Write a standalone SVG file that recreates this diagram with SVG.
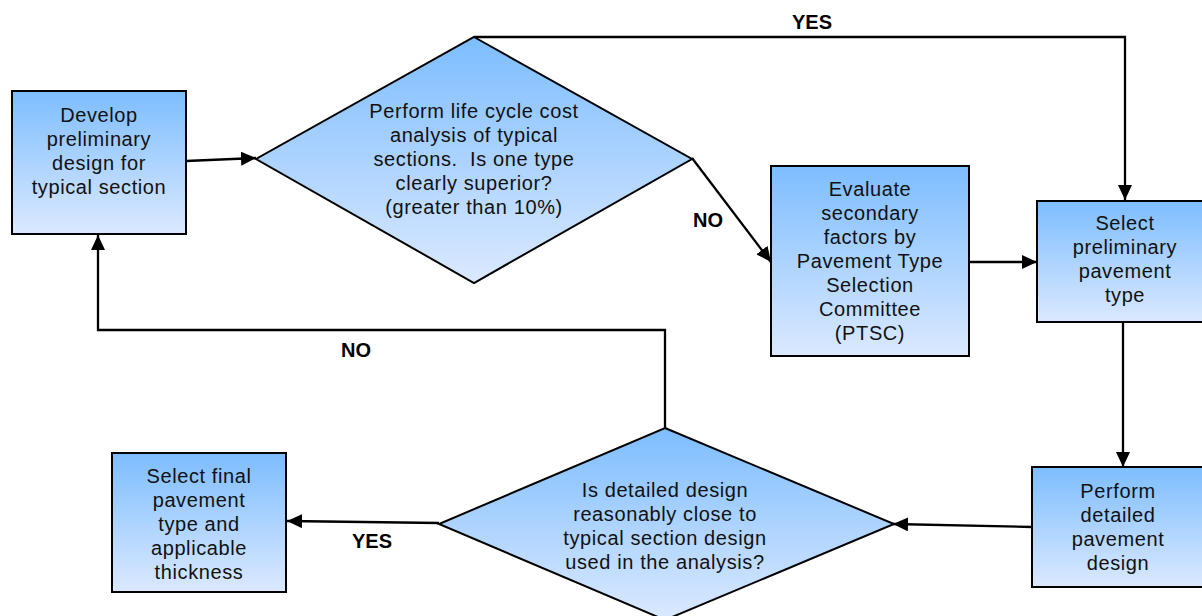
<svg xmlns="http://www.w3.org/2000/svg" width="1202" height="616" viewBox="0 0 1202 616">
<defs>
<linearGradient id="g" x1="0" y1="0" x2="0" y2="1">
<stop offset="0" stop-color="#7dbdff"/>
<stop offset="1" stop-color="#dbe9ff"/>
</linearGradient>
<marker id="ah" viewBox="0 0 15 14" refX="15" refY="7" markerWidth="15" markerHeight="14" markerUnits="userSpaceOnUse" orient="auto">
<path d="M0,0 L15,7 L0,14 z" fill="#000"/>
</marker>
<style>
.n{fill:url(#g);stroke:#000;stroke-width:2}
.t{font-family:"Liberation Sans",Arial,sans-serif;font-size:20px;letter-spacing:0.6px;fill:#111;text-anchor:middle;white-space:pre}
.l{font-family:"Liberation Sans",Arial,sans-serif;font-size:20px;font-weight:bold;fill:#000;text-anchor:middle}
.c{fill:none;stroke:#000;stroke-width:2.3;marker-end:url(#ah)}
</style>
</defs>
<rect width="1202" height="616" fill="#fff"/>
<g id="connectors">
<path class="c" d="M186,161 L256,158"/>
<path class="c" d="M474,37 L1125,37 L1125,200"/>
<path class="c" d="M692,158 L771,262"/>
<path class="c" d="M969,262 L1037,262"/>
<path class="c" d="M1123,322 L1123,467"/>
<path class="c" d="M1032,527 L893,524"/>
<path class="c" d="M439,523 L287,521"/>
<path class="c" d="M665,428 L665,330 L98,330 L98,235"/>
<text class="l" x="812" y="29">YES</text>
<text class="l" x="708" y="227">NO</text>
<text class="l" x="356" y="357">NO</text>
<text class="l" x="372" y="548">YES</text>
</g>
<g id="n1">
<rect class="n" x="12" y="91" width="174" height="143"/>
<text class="t"><tspan x="99" y="122">Develop</tspan><tspan x="99" y="146">preliminary</tspan><tspan x="99" y="170">design for</tspan><tspan x="99" y="194">typical section</tspan></text>
</g>
<g id="n2">
<polygon class="n" points="474,37 692,159 474,283 256,159"/>
<text class="t"><tspan x="474" y="118">Perform life cycle cost</tspan><tspan x="474" y="142">analysis of typical</tspan><tspan x="474" y="166">sections.  Is one type</tspan><tspan x="474" y="190">clearly superior?</tspan><tspan x="474" y="214">(greater than 10%)</tspan></text>
</g>
<g id="n3">
<rect class="n" x="771" y="166" width="198" height="190"/>
<text class="t"><tspan x="870" y="196">Evaluate</tspan><tspan x="870" y="220">secondary</tspan><tspan x="870" y="244">factors by</tspan><tspan x="870" y="268">Pavement Type</tspan><tspan x="870" y="292">Selection</tspan><tspan x="870" y="316">Committee</tspan><tspan x="870" y="340">(PTSC)</tspan></text>
</g>
<g id="n4">
<rect class="n" x="1037" y="201" width="166" height="121"/>
<text class="t"><tspan x="1125" y="230">Select</tspan><tspan x="1125" y="254">preliminary</tspan><tspan x="1125" y="278">pavement</tspan><tspan x="1125" y="302">type</tspan></text>
</g>
<g id="n5">
<rect class="n" x="1032" y="467" width="172" height="120"/>
<text class="t"><tspan x="1118" y="498">Perform</tspan><tspan x="1118" y="522">detailed</tspan><tspan x="1118" y="546">pavement</tspan><tspan x="1118" y="570">design</tspan></text>
</g>
<g id="n6">
<polygon class="n" points="665,428 894,524 665,620 439,524"/>
<text class="t"><tspan x="665" y="497">Is detailed design</tspan><tspan x="665" y="521">reasonably close to</tspan><tspan x="665" y="545">typical section design</tspan><tspan x="665" y="569">used in the analysis?</tspan></text>
</g>
<g id="n7">
<rect class="n" x="112" y="453" width="174" height="139"/>
<text class="t"><tspan x="199" y="483">Select final</tspan><tspan x="199" y="507">pavement</tspan><tspan x="199" y="531">type and</tspan><tspan x="199" y="555">applicable</tspan><tspan x="199" y="579">thickness</tspan></text>
</g>
</svg>
